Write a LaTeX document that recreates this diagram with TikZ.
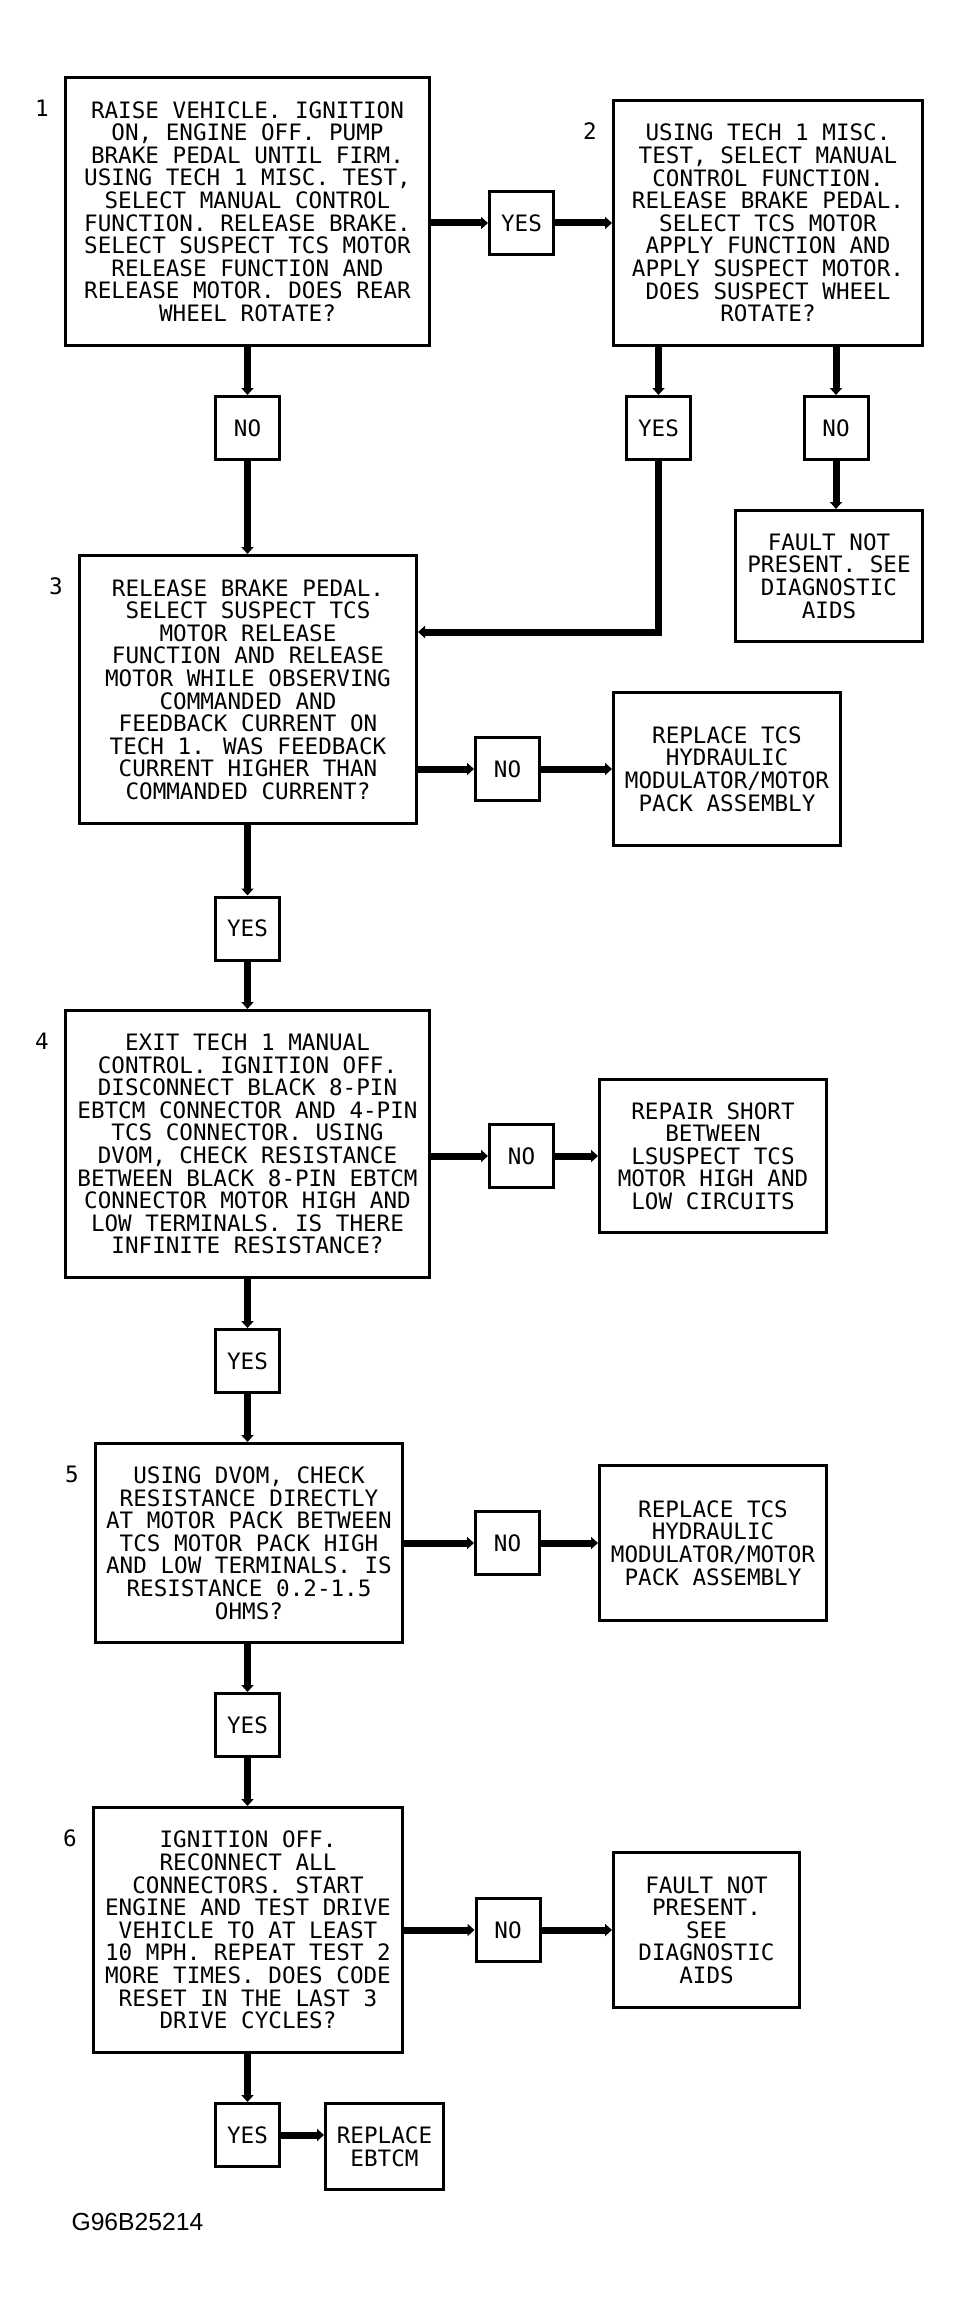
\documentclass[tikz,border=0pt]{standalone}
\usepackage{fontspec}
\usetikzlibrary{arrows.meta,positioning}
\newfontfamily\plotfont{DejaVu Sans Mono}
\newfontfamily\figfont{Liberation Sans}

\begin{document}
\begin{tikzpicture}[x=1pt,y=-1pt,
	every node/.style={font=\plotfont\fontsize{22.6}{22.6}\selectfont},
	stepbox/.style={draw,line width=3pt,align=center,inner sep=0pt},
	answer/.style={stepbox,minimum width=64pt,minimum height=63pt},
	flow/.style={line width=7pt,-{Triangle[width=12pt,length=7pt]}}]
 	\useasboundingbox (0,0) rectangle (962,2306);

	\node[stepbox,minimum width=364pt,minimum height=268pt] (b1) at (247.5,211.5)
		{RAISE VEHICLE. IGNITION\\ON, ENGINE OFF. PUMP\\BRAKE PEDAL UNTIL FIRM.\\USING TECH 1 MISC. TEST,\\SELECT MANUAL CONTROL\\FUNCTION. RELEASE BRAKE.\\SELECT SUSPECT TCS MOTOR\\RELEASE FUNCTION AND\\RELEASE MOTOR. DOES REAR\\WHEEL ROTATE?};
	\node[stepbox,minimum width=309pt,minimum height=245pt] (b2) at (768,223)
		{USING TECH 1 MISC.\\TEST, SELECT MANUAL\\CONTROL FUNCTION.\\RELEASE BRAKE PEDAL.\\SELECT TCS MOTOR\\APPLY FUNCTION AND\\APPLY SUSPECT MOTOR.\\DOES SUSPECT WHEEL\\ROTATE?};
	\node[stepbox,minimum width=337pt,minimum height=268pt] (b3) at (248,689.5)
		{RELEASE BRAKE PEDAL.\\SELECT SUSPECT TCS\\MOTOR RELEASE\\FUNCTION AND RELEASE\\MOTOR WHILE OBSERVING\\COMMANDED AND\\FEEDBACK CURRENT ON\\TECH 1. WAS FEEDBACK\\CURRENT HIGHER THAN\\COMMANDED CURRENT?};
	\node[stepbox,minimum width=364pt,minimum height=267pt] (b4) at (247.5,1144)
		{EXIT TECH 1 MANUAL\\CONTROL. IGNITION OFF.\\DISCONNECT BLACK 8-PIN\\EBTCM CONNECTOR AND 4-PIN\\TCS CONNECTOR. USING\\DVOM, CHECK RESISTANCE\\BETWEEN BLACK 8-PIN EBTCM\\CONNECTOR MOTOR HIGH AND\\LOW TERMINALS. IS THERE\\INFINITE RESISTANCE?};
	\node[stepbox,minimum width=307pt,minimum height=199pt] (b5) at (249,1543)
		{USING DVOM, CHECK\\RESISTANCE DIRECTLY\\AT MOTOR PACK BETWEEN\\TCS MOTOR PACK HIGH\\AND LOW TERMINALS. IS\\RESISTANCE 0.2-1.5\\OHMS?};
	\node[stepbox,minimum width=309pt,minimum height=245pt] (b6) at (248,1930)
		{IGNITION OFF.\\RECONNECT ALL\\CONNECTORS. START\\ENGINE AND TEST DRIVE\\VEHICLE TO AT LEAST\\10 MPH. REPEAT TEST 2\\MORE TIMES. DOES CODE\\RESET IN THE LAST 3\\DRIVE CYCLES?};

	\node (t1) at ([shift={(-22,32)}]b1.north west) {1};
	\node (t2) at ([shift={(-22,32)}]b2.north west) {2};
	\node (t3) at ([shift={(-22,32)}]b3.north west) {3};
	\node (t4) at ([shift={(-22,32)}]b4.north west) {4};
	\node (t5) at ([shift={(-22,32)}]b5.north west) {5};
	\node (t6) at ([shift={(-22,32)}]b6.north west) {6};

	\node[answer] (y1) at (521.5,223) {YES};
	\node[answer] (n1) at (247.5,428) {NO};
	\node[answer] (y2) at (658.5,428) {YES};
	\node[answer] (n2) at (836,428) {NO};
	\node[answer] (n3) at (507.5,769) {NO};
	\node[answer] (y3) at (247.5,928.5) {YES};
	\node[answer] (n4) at (521.5,1156) {NO};
	\node[answer] (y4) at (247.5,1361) {YES};
	\node[answer] (n5) at (507.5,1543) {NO};
	\node[answer] (y5) at (247.5,1725) {YES};
	\node[answer] (n6) at (508,1930) {NO};
	\node[answer] (y6) at (247.5,2135) {YES};

	\node[stepbox,minimum width=187pt,minimum height=131pt] (f1) at (829,576)
		{FAULT NOT\\PRESENT. SEE\\DIAGNOSTIC\\AIDS};
	\node[stepbox,minimum width=227pt,minimum height=153pt] (r1) at (727,769)
		{REPLACE TCS\\HYDRAULIC\\MODULATOR/MOTOR\\PACK ASSEMBLY};
	\node[stepbox,minimum width=227pt,minimum height=153pt] (r2) at (713,1156)
		{REPAIR SHORT\\BETWEEN\\LSUSPECT TCS\\MOTOR HIGH AND\\LOW CIRCUITS};
	\node[stepbox,minimum width=227pt,minimum height=155pt] (r3) at (713,1543)
		{REPLACE TCS\\HYDRAULIC\\MODULATOR/MOTOR\\PACK ASSEMBLY};
	\node[stepbox,minimum width=186pt,minimum height=155pt] (f2) at (706.5,1930)
		{FAULT NOT\\PRESENT.\\SEE\\DIAGNOSTIC\\AIDS};
	\node[stepbox,minimum width=118pt,minimum height=86pt] (r4) at (384.5,2146.5)
		{REPLACE\\EBTCM};

	\node[anchor=west,font=\figfont\fontsize{24.7}{24.7}\selectfont] (fig) at (68,2222) {G96B25214};
	\coordinate (turn) at (658.5,632);

	\draw[flow] (b1.east |- y1) -- (y1);
	\draw[flow] (y1) -- (y1 -| b2.west);
	\draw[flow] (b1) -- (n1);
	\draw[flow] (n1) -- (n1 |- b3.north);
	\draw[flow] (y2 |- b2.south) -- (y2);
	\draw[flow] (n2 |- b2.south) -- (n2);
	\draw[flow] (n2) -- (n2 |- f1.north);
	\draw[flow] (y2) -- (turn) -- (turn -| b3.east);
	\draw[flow] (b3.east |- n3) -- (n3);
	\draw[flow] (n3) -- (n3 -| r1.west);
	\draw[flow] (y3 |- b3.south) -- (y3);
	\draw[flow] (y3) -- (y3 |- b4.north);
	\draw[flow] (b4.east |- n4) -- (n4);
	\draw[flow] (n4) -- (n4 -| r2.west);
	\draw[flow] (b4) -- (y4);
	\draw[flow] (y4) -- (y4 |- b5.north);
	\draw[flow] (b5.east |- n5) -- (n5);
	\draw[flow] (n5) -- (n5 -| r3.west);
	\draw[flow] (y5 |- b5.south) -- (y5);
	\draw[flow] (y5) -- (y5 |- b6.north);
	\draw[flow] (b6.east |- n6) -- (n6);
	\draw[flow] (n6) -- (n6 -| f2.west);
	\draw[flow] (y6 |- b6.south) -- (y6);
	\draw[flow] (y6) -- (y6 -| r4.west);
	%\draw[flow] (b6) -- (y6);
\end{tikzpicture}
\end{document}
